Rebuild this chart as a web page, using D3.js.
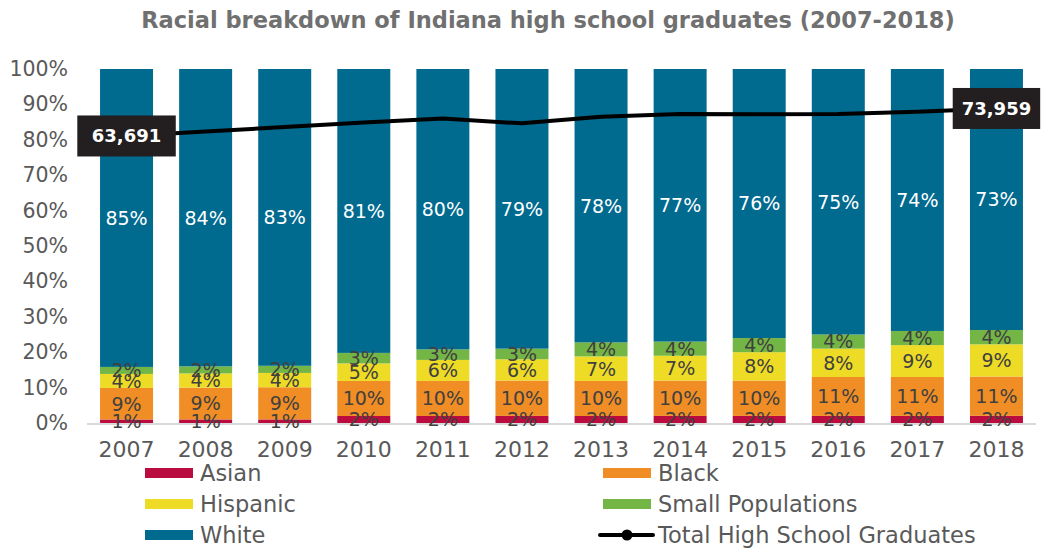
<!DOCTYPE html>
<html>
<head>
<meta charset="utf-8">
<script src="https://cdn.jsdelivr.net/npm/d3@7"></script>
<style>
  html, body { margin: 0; padding: 0; background: #fff; }
  svg { display: block; font-family: "DejaVu Sans", sans-serif; }
</style>
</head>
<body>
<svg id="chart" width="1052" height="548"></svg>
<script>
// Graduating classes
const years = ["2007", "2008", "2009", "2010", "2011", "2012", "2013", "2014", "2015", "2016", "2017", "2018"];

// Share of graduates by group (percent, as labelled)
const asian    = [1, 1, 1, 2, 2, 2, 2, 2, 2, 2, 2, 2];
const black    = [9, 9, 9, 10, 10, 10, 10, 10, 10, 11, 11, 11];
const hispanic = [4, 4, 4, 5, 6, 6, 7, 7, 8, 8, 9, 9];
const smallPop = [2, 2, 2, 3, 3, 3, 4, 4, 4, 4, 4, 4];
const white    = [85, 84, 83, 81, 80, 79, 78, 77, 76, 75, 74, 73];

// Total high school graduates per year
const totalGrads = [63691, 65400, 67000, 68700, 70200, 68400, 70900, 71900, 71800, 71900, 72700, 73959];

// Percent axis ticks
const pctTicks = [0, 10, 20, 30, 40, 50, 60, 70, 80, 90, 100];

const seriesKeys   = ["Asian", "Black", "Hispanic", "Small Populations", "White"];
const seriesValues = [asian, black, hispanic, smallPop, white];
const seriesColors = ["#BA0C3F", "#F08D24", "#EEDB25", "#74B646", "#006A8F"];

const rows = years.map((y, i) => {
  const r = { year: y };
  seriesKeys.forEach((k, j) => r[k] = seriesValues[j][i]);
  return r;
});

const svg = d3.select("#chart");
const margin = { left: 87, right: 1036, top: 69, bottom: 423 };

const x = d3.scaleBand().domain(years).range([margin.left, margin.right]).paddingInner(0.33).paddingOuter(0.165);
const y = d3.scaleLinear().domain([0, 1]).range([margin.bottom, margin.top]);
// secondary (hidden) axis for the totals line
const yTotal = d3.scaleLinear().domain([-43500, 88700]).range([margin.bottom, margin.top]);

// Title
svg.append("text")
  .attr("x", 548).attr("y", 28)
  .attr("text-anchor", "middle")
  .attr("font-size", 22.5).attr("font-weight", "bold")
  .attr("fill", "#707070")
  .text("Racial breakdown of Indiana high school graduates (2007-2018)");

// Y axis labels
const yAxis = d3.axisLeft(y)
  .tickValues(pctTicks.map(t => t / 100))
  .tickFormat(d => Math.round(d * 100) + "%")
  .tickSize(0).tickPadding(0);
const gy = svg.append("g").attr("transform", `translate(68,0)`).call(yAxis);
gy.select(".domain").remove();
gy.selectAll("text").attr("font-size", 20.5).attr("fill", "#595959").attr("font-family", "DejaVu Sans, sans-serif");

// 100% stacked bars
const stack = d3.stack().keys(seriesKeys).offset(d3.stackOffsetExpand);
const layers = stack(rows);

const layerG = svg.append("g").selectAll("g").data(layers).join("g")
  .attr("fill", (d, i) => seriesColors[i]);

layerG.selectAll("rect").data(d => d).join("rect")
  .attr("x", d => x(d.data.year))
  .attr("width", x.bandwidth())
  .attr("y", d => y(d[1]))
  .attr("height", d => y(d[0]) - y(d[1]));

// Baseline
svg.append("line")
  .attr("x1", margin.left).attr("x2", margin.right)
  .attr("y1", margin.bottom + 1).attr("y2", margin.bottom + 1)
  .attr("stroke", "#D9D9D9").attr("stroke-width", 2);

// Segment labels
layers.forEach((layer, i) => {
  svg.append("g").selectAll("text").data(layer).join("text")
    .attr("x", d => x(d.data.year) + x.bandwidth() / 2)
    .attr("y", d => (y(d[0]) + y(d[1])) / 2)
    .attr("dy", "0.36em")
    .attr("text-anchor", "middle")
    .attr("font-size", 19)
    .attr("fill", i === 4 ? "#FFFFFF" : "#404040")
    .text(d => d.data[layer.key] + "%");
});

// X axis labels
const xAxis = d3.axisBottom(x).tickSize(0).tickPadding(0);
const gx = svg.append("g").attr("transform", `translate(0,${margin.bottom + 18})`).call(xAxis);
gx.select(".domain").remove();
gx.selectAll("text").attr("font-size", 22).attr("fill", "#595959").attr("font-family", "DejaVu Sans, sans-serif");

// Totals line
const line = d3.line()
  .x((d, i) => x(years[i]) + x.bandwidth() / 2)
  .y(d => yTotal(d));
svg.append("path")
  .datum(totalGrads)
  .attr("d", line)
  .attr("fill", "none")
  .attr("stroke", "#000")
  .attr("stroke-width", 4)
  .attr("stroke-linejoin", "round");

// End-point value labels
const fmt = d3.format(",");
[0, totalGrads.length - 1].forEach(i => {
  const cx = x(years[i]) + x.bandwidth() / 2;
  const cy = yTotal(totalGrads[i]);
  const g = svg.append("g");
  const t = g.append("text")
    .attr("font-size", 18).attr("font-weight", "bold")
    .attr("fill", "#fff")
    .attr("text-anchor", "middle")
    .attr("dy", "0.36em")
    .text(fmt(totalGrads[i]));
  const w = t.node().getComputedTextLength() + (i === 0 ? 29 : 18);
  const h = 41;
  let bx = cx - w / 2;
  if (bx + w > 1047) bx = 1047 - w;
  g.insert("rect", "text")
    .attr("x", bx).attr("y", cy - h / 2)
    .attr("width", w).attr("height", h)
    .attr("fill", "#231F20");
  t.attr("x", bx + w / 2).attr("y", cy);
});

// Legend
const legendItems = [
  { label: "Asian", color: seriesColors[0], col: 0, row: 0 },
  { label: "Black", color: seriesColors[1], col: 1, row: 0 },
  { label: "Hispanic", color: seriesColors[2], col: 0, row: 1 },
  { label: "Small Populations", color: seriesColors[3], col: 1, row: 1 },
  { label: "White", color: seriesColors[4], col: 0, row: 2 },
  { label: "Total High School Graduates", color: "#000", col: 1, row: 2, isLine: true }
];
const colX = [145, 603];
const rowY = [473, 504, 535];
const lg = svg.append("g");
legendItems.forEach(it => {
  const gx0 = colX[it.col], gy0 = rowY[it.row];
  if (it.isLine) {
    lg.append("line").attr("x1", gx0 - 3).attr("x2", gx0 + 50)
      .attr("y1", gy0).attr("y2", gy0)
      .attr("stroke", "#000").attr("stroke-width", 4).attr("stroke-linecap", "round");
    lg.append("circle").attr("cx", gx0 + 24).attr("cy", gy0).attr("r", 5.5).attr("fill", "#000");
  } else {
    lg.append("rect").attr("x", gx0).attr("y", gy0 - 5)
      .attr("width", 48).attr("height", 10).attr("fill", it.color);
  }
  lg.append("text").attr("x", gx0 + 55).attr("y", gy0)
    .attr("dy", "0.36em")
    .attr("font-size", 22.5).attr("fill", "#595959")
    .text(it.label);
});
</script>
</body>
</html>
